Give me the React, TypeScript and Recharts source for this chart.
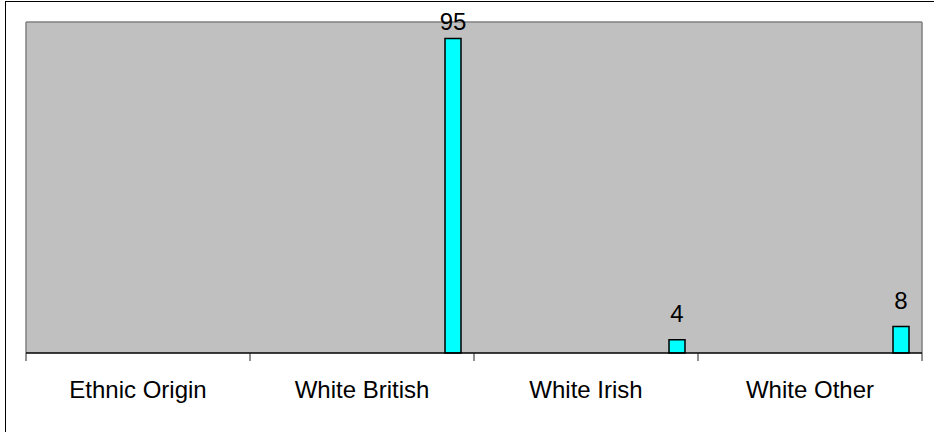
import React from 'react';
import { BarChart, Bar, XAxis, YAxis, CartesianGrid, LabelList } from 'recharts';

// Categories along the x axis and the count recorded for each.
const categories: string[] = ['Ethnic Origin', 'White British', 'White Irish', 'White Other'];
const counts: (number | null)[] = [null, 95, 4, 8];
// Empty companion series: it only reserves the left part of each category slot,
// so the counted bar sits at the right side of its category.
const blanks: (number | null)[] = [null, null, null, null];

const data = categories.map((name, i) => ({ name, count: counts[i], blank: blanks[i] }));

const FONT = '"Liberation Sans", Arial, Helvetica, sans-serif';

// Category label centred in its slot, with tick marks on the slot boundaries.
function CategoryTick(props: any) {
  const { x, y, payload, width, visibleTicksCount, index } = props;
  const half = width / visibleTicksCount / 2;
  const left = x - half;
  const right = x + half;
  return (
    <g>
      <line x1={left} x2={left} y1={y} y2={y + 8} stroke="#222" strokeWidth={1} />
      {index === visibleTicksCount - 1 && (
        <line x1={right} x2={right} y1={y} y2={y + 8} stroke="#222" strokeWidth={1} />
      )}
      <text x={x} y={y + 45} textAnchor="middle" fontSize={24} fontFamily={FONT} fill="#000">
        {payload.value}
      </text>
    </g>
  );
}

// Value printed above each bar; kept inside the chart near the top edge.
function ValueLabel(props: any) {
  const vb = props.viewBox || {};
  const x = props.x ?? vb.x;
  const y = props.y ?? vb.y;
  const width = props.width ?? vb.width;
  const { value } = props;
  if (value === null || value === undefined || x === undefined) return null;
  const baseline = Math.max(y - 17.5, 29.5);
  return (
    <text x={x + width / 2} y={baseline} textAnchor="middle" fontSize={24} fontFamily={FONT} fill="#000">
      {value}
    </text>
  );
}

export default function App() {
  return (
    <div
      style={{
        position: 'absolute',
        left: 0,
        top: 0,
        width: 934,
        height: 432,
        overflow: 'hidden',
        background: '#fff',
      }}
    >
      <div
        style={{
          position: 'absolute',
          left: 5,
          top: 1,
          width: 1000,
          height: 600,
          borderLeft: '1.5px solid #000',
          borderTop: '1.5px solid #000',
        }}
      />
      <BarChart
        width={934}
        height={432}
        data={data}
        margin={{ top: 22, right: 12, bottom: 0, left: 26 }}
        barGap={0}
      >
        <CartesianGrid
          fill="#C0C0C0"
          fillOpacity={1}
          stroke="#808080"
          strokeWidth={1.5}
          horizontalCoordinatesGenerator={({ offset }: any) => [offset.top]}
          verticalCoordinatesGenerator={({ offset }: any) => [offset.left, offset.left + offset.width]}
        />
        <XAxis
          dataKey="name"
          height={79}
          interval={0}
          tickSize={0}
          tickMargin={0}
          tickLine={false}
          axisLine={{ stroke: '#000', strokeWidth: 1.5 }}
          tick={<CategoryTick />}
        />
        <YAxis hide domain={[0, 100]} />
        <Bar dataKey="blank" barSize={182} isAnimationActive={false} />
        <Bar
          dataKey="count"
          barSize={16}
          fill="#00FFFF"
          stroke="#000"
          strokeWidth={1.5}
          isAnimationActive={false}
        >
          <LabelList dataKey="count" content={<ValueLabel />} />
        </Bar>
      </BarChart>
    </div>
  );
}
